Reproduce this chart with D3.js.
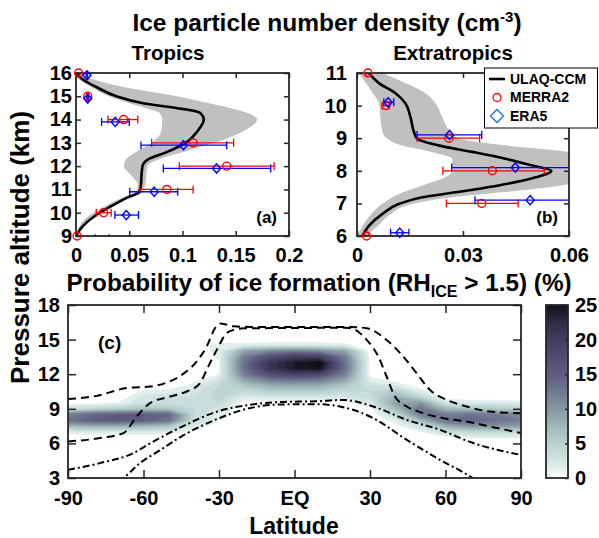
<!DOCTYPE html>
<html>
<head>
<meta charset="utf-8">
<script src="https://cdn.jsdelivr.net/npm/d3@7/dist/d3.min.js"></script>
<style>
  html, body { margin: 0; padding: 0; background: #fff; }
  svg text { font-family: "Liberation Sans", Arial, Helvetica, sans-serif; font-weight: bold; fill: #000; }
</style>
</head>
<body>
<svg id="fig" width="599" height="538"></svg>
<script>
// ---------- (a) Tropics: model profile and spread ----------
const tropAlt  = [9.0, 9.4, 9.9, 10.3, 10.65, 10.87, 11.2, 11.6, 12.0, 12.3, 12.6, 13.0, 13.5, 14.0, 14.3, 14.5, 14.7, 15.0, 15.4, 15.7, 16.0];
const tropMean = [0, 0.006, 0.019, 0.034, 0.048, 0.059, 0.061, 0.0615, 0.0625, 0.068, 0.085, 0.103, 0.114, 0.120, 0.116, 0.094, 0.063, 0.038, 0.019, 0.007, 0];
const tropLow  = [0, 0.003, 0.013, 0.028, 0.044, 0.056, 0.058, 0.052, 0.045, 0.047, 0.056, 0.071, 0.080, 0.081, 0.078, 0.065, 0.050, 0.031, 0.014, 0.004, 0];
const tropHigh = [0, 0.006, 0.019, 0.034, 0.050, 0.0625, 0.065, 0.066, 0.067, 0.078, 0.100, 0.130, 0.157, 0.170, 0.160, 0.145, 0.125, 0.095, 0.045, 0.018, 0];

// Tropics observations
const merraTropAlt = [16, 15, 14, 13, 12, 11, 10, 9];
const merraTropVal = [0.0025, 0.011, 0.0447, 0.110, 0.1415, 0.0853, 0.026, 0.001];
const merraTropLo  = [0.0015, 0.010, 0.030, 0.071, 0.097, 0.060, 0.019, 0.0005];
const merraTropHi  = [0.0035, 0.012, 0.058, 0.148, 0.186, 0.110, 0.033, 0.0015];
const era5TropAlt  = [15.9, 14.9, 13.9, 12.9, 11.9, 10.9, 9.9, 8.9];
const era5TropVal  = [0.0103, 0.011, 0.0368, 0.1009, 0.132, 0.0734, 0.0472, 0.0245];
const era5TropLo   = [0.0095, 0.0103, 0.0240, 0.0610, 0.0820, 0.0505, 0.0365, 0.018];
const era5TropHi   = [0.011, 0.0117, 0.050, 0.1415, 0.1828, 0.0955, 0.0587, 0.031];

// ---------- (b) Extratropics: model profile and spread ----------
const extAlt  = [6.0, 6.3, 6.67, 6.98, 7.19, 7.34, 7.55, 7.8, 8.0, 8.16, 8.37, 8.58, 8.78, 8.99, 9.2, 9.66, 10.07, 10.38, 10.69, 11.0];
const extMean = [0.0015, 0.0033, 0.0071, 0.0118, 0.0185, 0.028, 0.040, 0.0506, 0.055, 0.0497, 0.042, 0.0326, 0.023, 0.017, 0.0161, 0.0151, 0.0137, 0.0109, 0.0062, 0.0033];
const extLow  = [0, 0.0015, 0.004, 0.0071, 0.010, 0.013, 0.0185, 0.025, 0.027, 0.027, 0.027, 0.021, 0.0125, 0.0085, 0.0072, 0.0066, 0.0062, 0.0045, 0.0025, 0.0005];
const extHigh = [0.0024, 0.0058, 0.0095, 0.0155, 0.027, 0.041, 0.058, 0.066, 0.068, 0.068, 0.066, 0.060, 0.042, 0.029, 0.0265, 0.0241, 0.0222, 0.0194, 0.0137, 0.0071];

// Extratropics observations
const merraExtAlt = [11, 10, 9, 8, 7, 6];
const merraExtVal = [0.0031, 0.0082, 0.026, 0.0383, 0.0353, 0.0027];
const merraExtLo  = [0.0026, 0.0071, 0.017, 0.0243, 0.0253, 0.0022];
const merraExtHi  = [0.0036, 0.0090, 0.0347, 0.053, 0.0456, 0.0032];
const era5ExtAlt  = [10.1, 9.1, 8.1, 7.1, 6.1];
const era5ExtVal  = [0.0088, 0.0262, 0.0448, 0.049, 0.0121];
const era5ExtLo   = [0.0076, 0.017, 0.0268, 0.0334, 0.0095];
const era5ExtHi   = [0.0104, 0.0353, 0.063, 0.065, 0.0147];

// ---------- (c) Probability of ice formation (%), latitude x altitude ----------
const probLat = [-90, -80, -70, -60, -50, -40, -30, -20, -10, 0, 10, 20, 30, 40, 50, 60, 70, 80, 90];
const probAlt = [6, 6.5, 7, 7.5, 8, 8.5, 9, 9.5, 10, 10.5, 11, 11.5, 12, 12.5, 13, 13.5, 14, 14.5, 15, 15.5];
const probRows = [
  [0,0,0,0,0,0,0,0,0,0,0,0,0,0,0,0,0,0,0],
  [0,0,0,0,0,0,0,0,0,0,0,0,0,0,0,0.5,1,1.2,1],
  [1.5,2,2,2,1.5,0.5,0,0,0,0,0,0,0,0,1,3,4,4,3.5],
  [7,8,8,7,6,2,0.3,0,0,0,0,0,0,0.5,3,8,10,10,9],
  [13,15,15,15,13,3.5,1,0,0,0,0,0,0,1.5,7,13,14,13,12],
  [12,14,15,15,14,4,1.5,0,0,0,0,0,0,3.5,12,12,13,12,11],
  [3,4,5,6,6,4,2.5,0,0,0,0,0,0.5,7,13,7,6,5.5,5],
  [0.3,0.5,1,3,3.5,3.5,4,0.5,0.5,0.5,0.5,0.5,2,9,10,2.5,2,2,1.5],
  [0,0,0,2.5,3,3,4.5,1.5,2,2,2,2,3.5,8,4.5,0.5,0,0,0],
  [0,0,0,1.2,1.5,2.5,4.5,4,5,5,5,4,4,5.5,1.5,0,0,0,0],
  [0,0,0,0,0,1.5,4,6,8,8,8,6,3,2,0.3,0,0,0,0],
  [0,0,0,0,0,0.5,2.5,9,12,13,12,9,1.5,0.5,0,0,0,0,0],
  [0,0,0,0,0,0,1,12,17,19,18,12,0.5,0,0,0,0,0,0],
  [0,0,0,0,0,0,0.8,13,21,24,25,13,0.5,0,0,0,0,0,0],
  [0,0,0,0,0,0,0.8,13,21,24,26,13,0.5,0,0,0,0,0,0],
  [0,0,0,0,0,0,1.2,12,17,20,19,12,0.3,0,0,0,0,0,0],
  [0,0,0,0,0,0,1.5,9,11,12,11,9,0.3,0,0,0,0,0,0],
  [0,0,0,0,0,0,1.5,1.5,2,2,2,1.5,0,0,0,0,0,0,0],
  [0,0,0,0,0,0,0.3,0,0,0,0,0,0,0,0,0,0,0,0],
  [0,0,0,0,0,0,0,0,0,0,0,0,0,0,0,0,0,0,0]
];
const probLevels = [1,2,3,4,5,6,7,8,9,10,11,12,13,14,15,16,17,18,19,20,21,22,23,24,25];

// Overlaid boundary curves (lat, km)
const dashedUpperLat = [-90, -78.6, -66.7, -57.4, -50.8, -44.8, -38.9, -34.9, -31.6, -29.5, -27, -24.3, -17.7, 22, 28.7, 36.6, 43.2, 48.5, 53.8, 60.5, 68.4, 77.7, 90];
const dashedUpperAlt = [9.85, 10.12, 10.8, 10.93, 11.27, 11.94, 13.1, 14.4, 15.98, 16.4, 16.3, 16.15, 16.1, 16.1, 15.98, 14.97, 13.53, 12.09, 10.64, 9.77, 9.2, 8.76, 8.62];
const dashedLowerLat = [-90, -77.3, -68, -62.7, -57.4, -49.5, -42.8, -37.6, -34.3, -30.9, -27, -24, -20, 20, 22, 28.7, 33.3, 36.6, 39.9, 44.6, 51.2, 59.1, 68.4, 77.7, 90];
const dashedLowerAlt = [6.17, 6.46, 6.89, 8.33, 9.49, 10.06, 10.5, 11.2, 12.66, 14.1, 15.55, 15.85, 15.98, 16.02, 16.0, 14.97, 13.53, 11.8, 10.06, 9.2, 8.62, 8.19, 7.9, 7.46, 6.89];
const dashDotUpperLat = [-90, -77.3, -64, -57.4, -44.2, -30.9, -17.7, -4.5, 8.8, 19.4, 31.3, 44.6, 57.8, 71, 90];
const dashDotUpperAlt = [3.71, 4.29, 5.16, 6.0, 7.5, 8.75, 9.35, 9.6, 9.65, 9.77, 9.2, 8.04, 7.18, 6.03, 5.0];
const dashDotLowerLat = [-70, -68, -61.4, -53.5, -44.2, -30.9, -17.7, -4.5, 8.8, 18.1, 31.3, 44.6, 57.8, 69.7, 72];
const dashDotLowerAlt = [2.7, 3.0, 4.29, 5.4, 6.7, 8.1, 9.06, 9.38, 9.4, 9.2, 8.19, 6.31, 4.58, 3.14, 2.8];

// Colour map for the probability field
const cmapVal = [0, 1, 2.5, 5, 7.5, 10, 12.5, 15, 17.5, 20, 22.5, 25];
const cmapCol = ["#ffffff", "#e8f2f1", "#d3e5e3", "#b9d2cf", "#9fb8b8", "#8796a1", "#717892", "#5f5c80", "#514d72", "#423e60", "#2e2b45", "#111117"];

// Tick values and labels
const tropXTicks = [0, 0.05, 0.1, 0.15, 0.2];
const tropXLabels = ["0", "0.05", "0.1", "0.15", "0.2"];
const tropYTicks = [9, 10, 11, 12, 13, 14, 15, 16];
const extXTicks = [0, 0.03, 0.06];
const extXLabels = ["0", "0.03", "0.06"];
const extYTicks = [6, 7, 8, 9, 10, 11];
const latTicks = [-90, -60, -30, 0, 30, 60, 90];
const latLabels = ["-90", "-60", "-30", "EQ", "30", "60", "90"];
const altTicks = [3, 6, 9, 12, 15, 18];
const cbTicks = [0, 5, 10, 15, 20, 25];

// ---------------------------------------------------------------
const svg = d3.select("#fig");
const ink = "#262626";
const defs = svg.append("defs");

const xA = d3.scaleLinear([0, 0.2], [76, 289]);
const yA = d3.scaleLinear([9, 16], [236, 73]);
const xB = d3.scaleLinear([0, 0.06], [357, 569]);
const yB = d3.scaleLinear([6, 11], [236, 73]);
const xC = d3.scaleLinear([-90, 90], [68, 521]);
const yC = d3.scaleLinear([3, 18], [478, 305]);
const yCB = d3.scaleLinear([0, 25], [478, 305]);
const cmap = d3.scaleLinear(cmapVal, cmapCol).interpolate(d3.interpolateRgb).clamp(true);

function clipFor(id, x, y) {
  const [x0, x1] = x.range(), [yb, yt] = y.range();
  defs.append("clipPath").attr("id", id).append("rect")
    .attr("x", x0).attr("y", yt).attr("width", x1 - x0).attr("height", yb - yt);
  return `url(#${id})`;
}

// Box with inward ticks on all four sides
function frame(g, x, y, o) {
  const [x0, x1] = x.range(), [yb, yt] = y.range();
  const style = sel => {
    sel.select(".domain").remove();
    sel.attr("font-size", null).attr("font-family", null);
    sel.selectAll(".tick line").attr("stroke", ink).attr("stroke-width", 1.5);
    sel.selectAll(".tick text").attr("font-size", o.fs).attr("fill", "#000");
  };
  const blank = () => "";
  g.append("g").attr("transform", `translate(0,${yb})`)
    .call(d3.axisBottom(x).tickValues(o.xv).tickFormat((d, i) => o.xl[i]).tickSize(-o.tk).tickPadding(o.xp)).call(style);
  g.append("g").attr("transform", `translate(0,${yt})`)
    .call(d3.axisTop(x).tickValues(o.xv).tickFormat(blank).tickSize(-o.tk)).call(style);
  g.append("g").attr("transform", `translate(${x0},0)`)
    .call(d3.axisLeft(y).tickValues(o.yv).tickFormat((d, i) => o.yl[i]).tickSize(-o.tk).tickPadding(o.yp)).call(style);
  g.append("g").attr("transform", `translate(${x1},0)`)
    .call(d3.axisRight(y).tickValues(o.yv).tickFormat(blank).tickSize(-o.tk)).call(style);
  g.append("rect").attr("x", x0).attr("y", yt).attr("width", x1 - x0).attr("height", yb - yt)
    .attr("fill", "none").attr("stroke", ink).attr("stroke-width", 1.8);
}

const circleShape = d3.symbol(d3.symbolCircle, Math.PI * 16)();
const diamondShape = "M0,-4.6L4,0L0,4.6L-4,0Z";

function profilePanel(o) {
  const g = svg.append("g");
  const inner = g.append("g").attr("clip-path", clipFor(o.id, o.x, o.y));
  const rows = o.alt.map((a, i) => ({ a, m: o.mean[i], lo: o.low[i], hi: o.high[i] }));
  inner.append("path").datum(rows).attr("fill", "#c0c0c0")
    .attr("d", d3.area().curve(d3.curveMonotoneY).y(d => o.y(d.a)).x0(d => o.x(d.lo)).x1(d => o.x(d.hi)));
  inner.append("path").datum(rows).attr("fill", "none").attr("stroke", "#000").attr("stroke-width", 2.6)
    .attr("d", d3.line().curve(d3.curveMonotoneY).y(d => o.y(d.a)).x(d => o.x(d.m)));

  const series = o.obs.map(s => ({ ...s, pts: s.alt.map((a, i) => ({ a, v: s.val[i], lo: s.lo[i], hi: s.hi[i] })) }));
  series.forEach(s => {
    const eb = inner.append("g").attr("stroke", s.color).attr("stroke-width", 1.3);
    s.pts.forEach(p => {
      const yy = o.y(p.a);
      eb.append("line").attr("x1", o.x(p.lo)).attr("x2", o.x(p.hi)).attr("y1", yy).attr("y2", yy);
      [p.lo, p.hi].forEach(v => eb.append("line").attr("x1", o.x(v)).attr("x2", o.x(v)).attr("y1", yy - 4).attr("y2", yy + 4));
    });
  });

  frame(g, o.x, o.y, o.axes);

  const [dLo, dHi] = o.y.domain();
  series.forEach(s => {
    g.append("g").selectAll("path").data(s.pts.filter(p => p.a >= dLo && p.a <= dHi)).join("path")
      .attr("d", s.shape).attr("transform", p => `translate(${o.x(p.v)},${o.y(p.a)})`)
      .attr("fill", "none").attr("stroke", s.color).attr("stroke-width", 1.4);
  });
  return g;
}

// Panel (a)
const gA = profilePanel({
  id: "clipA", x: xA, y: yA, alt: tropAlt, mean: tropMean, low: tropLow, high: tropHigh,
  obs: [
    { alt: merraTropAlt, val: merraTropVal, lo: merraTropLo, hi: merraTropHi, color: "#ff0000", shape: circleShape },
    { alt: era5TropAlt, val: era5TropVal, lo: era5TropLo, hi: era5TropHi, color: "#0000ff", shape: diamondShape }
  ],
  axes: { xv: tropXTicks, xl: tropXLabels, yv: tropYTicks, yl: tropYTicks.map(String), tk: 5, xp: 12, yp: 4, fs: 20 }
});
gA.append("text").attr("x", 277).attr("y", 223).attr("text-anchor", "end").attr("font-size", 17).text("(a)");

// Panel (b)
const gB = profilePanel({
  id: "clipB", x: xB, y: yB, alt: extAlt, mean: extMean, low: extLow, high: extHigh,
  obs: [
    { alt: merraExtAlt, val: merraExtVal, lo: merraExtLo, hi: merraExtHi, color: "#ff0000", shape: circleShape },
    { alt: era5ExtAlt, val: era5ExtVal, lo: era5ExtLo, hi: era5ExtHi, color: "#0000ff", shape: diamondShape }
  ],
  axes: { xv: extXTicks, xl: extXLabels, yv: extYTicks, yl: extYTicks.map(String), tk: 5, xp: 12, yp: 10, fs: 20 }
});
gB.append("text").attr("x", 558).attr("y", 223).attr("text-anchor", "end").attr("font-size", 17).text("(b)");

// Legend
const lg = svg.append("g");
lg.append("rect").attr("x", 484.5).attr("y", 68).attr("width", 113).attr("height", 60)
  .attr("fill", "#fff").attr("stroke", "#000").attr("stroke-width", 1);
lg.append("line").attr("x1", 489).attr("x2", 505).attr("y1", 79).attr("y2", 79).attr("stroke", "#000").attr("stroke-width", 2.6);
lg.append("path").attr("d", circleShape).attr("transform", "translate(497,97.5)").attr("fill", "none").attr("stroke", "#ff0000").attr("stroke-width", 1.3);
lg.append("path").attr("d", "M0,-6.5L6.5,0L0,6.5L-6.5,0Z").attr("transform", "translate(497,116)").attr("fill", "none").attr("stroke", "#1a70d8").attr("stroke-width", 1.3);
[["ULAQ-CCM", 84], ["MERRA2", 102], ["ERA5", 121]].forEach(([t, y]) =>
  lg.append("text").attr("x", 510).attr("y", y).attr("font-size", 14).text(t));

// Panel (c): filled contours
const gC = svg.append("g");
const innerC = gC.append("g").attr("clip-path", clipFor("clipC", xC, yC));
const nx = probLat.length, ny = probAlt.length;
const dLat = probLat[1] - probLat[0], dAlt = probAlt[1] - probAlt[0];
const gridProj = d3.geoTransform({
  point(px, py) { this.stream.point(xC(probLat[0] + (px - 0.5) * dLat), yC(probAlt[0] + (py - 0.5) * dAlt)); }
});
const gridPath = d3.geoPath(gridProj);
const bands = d3.contours().size([nx, ny]).thresholds(probLevels)(probRows.flat());
const bandColor = d => cmap(d.value + 0.5);
innerC.append("g").selectAll("path").data(bands).join("path")
  .attr("d", gridPath)
  .attr("fill", bandColor)
  .attr("stroke", bandColor).attr("stroke-width", 0.4);

const curve = d3.line().curve(d3.curveMonotoneX).x(d => xC(d[0])).y(d => yC(d[1]));
const pairs = (la, al) => la.map((v, i) => [v, al[i]]);
[[dashedUpperLat, dashedUpperAlt, "8,5"], [dashedLowerLat, dashedLowerAlt, "8,5"],
 [dashDotUpperLat, dashDotUpperAlt, "7,3,2,3"], [dashDotLowerLat, dashDotLowerAlt, "7,3,2,3"]]
  .forEach(([la, al, dash]) => innerC.append("path").attr("d", curve(pairs(la, al)))
    .attr("fill", "none").attr("stroke", "#000").attr("stroke-width", 2).attr("stroke-dasharray", dash));

frame(gC, xC, yC, { xv: latTicks, xl: latLabels, yv: altTicks, yl: altTicks.map(String), tk: 8, xp: 13, yp: 8, fs: 20 });
gC.append("text").attr("x", 98).attr("y", 349).attr("font-size", 19).text("(c)");

// Colour bar
const grad = defs.append("linearGradient").attr("id", "cbGrad").attr("x1", 0).attr("x2", 0).attr("y1", 1).attr("y2", 0);
cmapVal.forEach((v, i) => grad.append("stop").attr("offset", v / 25).attr("stop-color", cmapCol[i]));
const cb = svg.append("g");
cb.append("rect").attr("x", 546).attr("y", 305).attr("width", 22).attr("height", 173).attr("fill", "url(#cbGrad)");
const cbAxis = cb.append("g").attr("transform", "translate(568,0)")
  .call(d3.axisRight(yCB).tickValues(cbTicks).tickSize(-3).tickPadding(7));
cbAxis.select(".domain").remove();
cbAxis.attr("font-size", null).attr("font-family", null);
cbAxis.selectAll(".tick line").attr("stroke", ink).attr("stroke-width", 1.5);
cbAxis.selectAll(".tick text").attr("font-size", 20).attr("fill", "#000");
cb.append("rect").attr("x", 546).attr("y", 305).attr("width", 22).attr("height", 173)
  .attr("fill", "none").attr("stroke", ink).attr("stroke-width", 1.8);

// Titles and axis labels
const t1 = svg.append("text").attr("x", 327).attr("y", 31).attr("text-anchor", "middle").attr("font-size", 24.5);
t1.append("tspan").text("Ice particle number density (cm");
t1.append("tspan").attr("dy", -9).attr("font-size", 15).text("-3");
t1.append("tspan").attr("dy", 9).text(")");
svg.append("text").attr("x", 168).attr("y", 60).attr("text-anchor", "middle").attr("font-size", 20.5).text("Tropics");
svg.append("text").attr("x", 453).attr("y", 60).attr("text-anchor", "middle").attr("font-size", 20.5).text("Extratropics");

const t2 = svg.append("text").attr("x", 319).attr("y", 291).attr("text-anchor", "middle").attr("font-size", 24.3);
t2.append("tspan").text("Probability of ice formation (RH");
t2.append("tspan").attr("dy", 6).attr("font-size", 16).text("ICE");
t2.append("tspan").attr("dy", -6).text(" > 1.5) (%)");

svg.append("text").attr("transform", "translate(29,384) rotate(-90)").attr("font-size", 26).text("Pressure altitude (km)");
svg.append("text").attr("x", 294).attr("y", 534).attr("text-anchor", "middle").attr("font-size", 23).text("Latitude");
</script>
</body>
</html>
